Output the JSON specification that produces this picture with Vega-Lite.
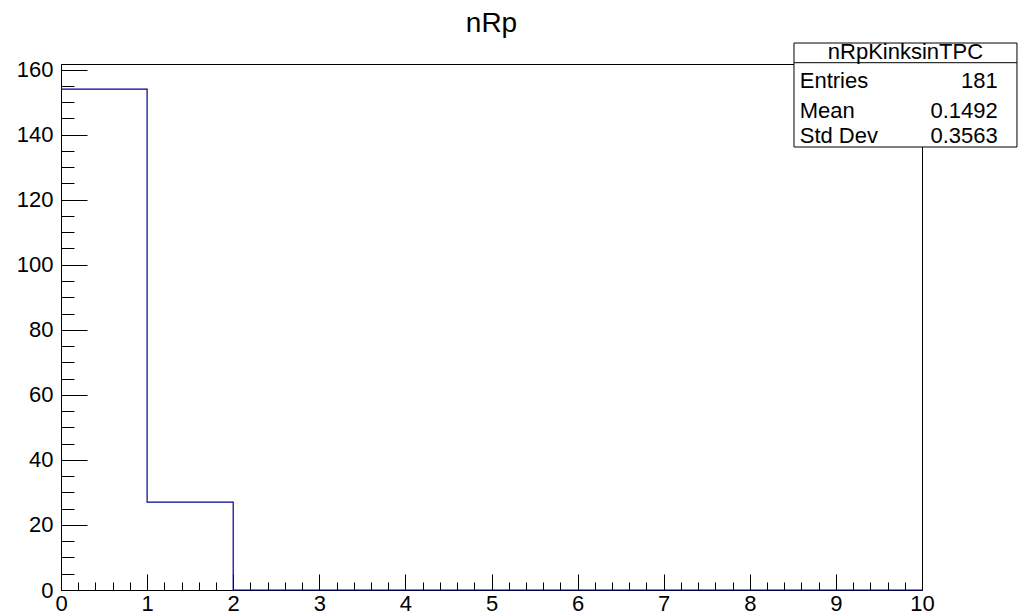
{
  "$schema": "https://vega.github.io/schema/vega-lite/v6.json",
  "width": 861,
  "height": 526,
  "autosize": {"type": "none"},
  "padding": {"left": 61, "top": 64, "right": 96, "bottom": 25},
  "background": "white",
  "config": {
    "view": {"stroke": "black", "strokeWidth": 1},
    "font": "Liberation Sans",
    "axis": {"grid": false, "domainColor": "black", "tickColor": "black", "labelColor": "black", "labelFont": "Liberation Sans", "labelFontSize": 22, "title": null, "labelFlush": false, "labelOverlap": false, "domainWidth": 1, "tickWidth": 1}
  },
  "title": {"text": "nRp", "anchor": "middle", "fontSize": 28, "fontWeight": "normal", "font": "Liberation Sans", "color": "black", "offset": -25, "baseline": "bottom"},
  "datasets": {
    "hist": [
      {"x": 0, "count": 154}, {"x": 1, "count": 27}, {"x": 2, "count": 0}, {"x": 3, "count": 0},
      {"x": 4, "count": 0}, {"x": 5, "count": 0}, {"x": 6, "count": 0}, {"x": 7, "count": 0},
      {"x": 8, "count": 0}, {"x": 9, "count": 0}, {"x": 10, "count": 0}
    ],
    "stats": [
      {"name": "Entries", "value": "181"},
      {"name": "Mean", "value": "0.1492"},
      {"name": "Std Dev", "value": "0.3563"}
    ],
    "one": [{"name": "nRpKinksinTPC"}]
  },
  "resolve": {"axis": {"x": "independent", "y": "independent"}},
  "layer": [
    {
      "data": {"name": "hist"},
      "mark": {"type": "line", "interpolate": "step-after", "color": "#000099", "strokeWidth": 1.2},
      "encoding": {
        "x": {"field": "x", "type": "quantitative", "scale": {"domain": [0, 10], "nice": false, "zero": false},
              "axis": {"orient": "bottom", "values": [0,1,2,3,4,5,6,7,8,9,10], "tickSize": -16, "labelPadding": 19}},
        "y": {"field": "count", "type": "quantitative", "scale": {"domain": [0, 161.7], "nice": false, "zero": false},
              "axis": {"orient": "left", "values": [0,20,40,60,80,100,120,140,160], "tickSize": -26, "labelPadding": 34}}
      }
    },
    {
      "data": {"name": "hist"},
      "mark": {"type": "line", "opacity": 0},
      "encoding": {
        "x": {"field": "x", "type": "quantitative",
              "axis": {"orient": "bottom", "values": [0.2,0.4,0.6,0.8,1.2,1.4,1.6,1.8,2.2,2.4,2.6,2.8,3.2,3.4,3.6,3.8,4.2,4.4,4.6,4.8,5.2,5.4,5.6,5.8,6.2,6.4,6.6,6.8,7.2,7.4,7.6,7.8,8.2,8.4,8.6,8.8,9.2,9.4,9.6,9.8], "tickSize": -8, "labels": false, "domain": false}},
        "y": {"field": "count", "type": "quantitative",
              "axis": {"orient": "left", "values": [5,10,15,25,30,35,45,50,55,65,70,75,85,90,95,105,110,115,125,130,135,145,150,155], "tickSize": -13, "labels": false, "domain": false}}
      }
    },
    {
      "data": {"name": "one"},
      "mark": {"type": "rect", "fill": "white", "stroke": "black", "strokeWidth": 1},
      "encoding": {
        "x": {"datum": 8.513, "type": "quantitative", "axis": null},
        "x2": {"datum": 11.103},
        "y": {"datum": 168.15, "type": "quantitative", "axis": null},
        "y2": {"datum": 136.18}
      }
    },
    {
      "data": {"name": "one"},
      "mark": {"type": "rule", "color": "black", "strokeWidth": 1},
      "encoding": {
        "x": {"datum": 8.513, "type": "quantitative", "axis": null},
        "x2": {"datum": 11.103},
        "y": {"datum": 162.1, "type": "quantitative", "axis": null}
      }
    },
    {
      "data": {"name": "one"},
      "mark": {"type": "text", "align": "center", "baseline": "middle", "fontSize": 22, "color": "black"},
      "encoding": {
        "x": {"datum": 9.808, "type": "quantitative", "axis": null},
        "y": {"datum": 165.3, "type": "quantitative", "axis": null},
        "text": {"field": "name"}
      }
    },
    {
      "data": {"name": "stats"},
      "transform": [{"filter": "datum.name === 'Entries'"}],
      "mark": {"type": "text", "align": "left", "baseline": "middle", "fontSize": 22, "color": "black"},
      "encoding": {
        "x": {"datum": 8.58, "type": "quantitative", "axis": null},
        "y": {"datum": 156.6, "type": "quantitative", "axis": null},
        "text": {"field": "name"}
      }
    },
    {
      "data": {"name": "stats"},
      "transform": [{"filter": "datum.name === 'Entries'"}],
      "mark": {"type": "text", "align": "right", "baseline": "middle", "fontSize": 22, "color": "black"},
      "encoding": {
        "x": {"datum": 10.88, "type": "quantitative", "axis": null},
        "y": {"datum": 156.6, "type": "quantitative", "axis": null},
        "text": {"field": "value"}
      }
    },
    {
      "data": {"name": "stats"},
      "transform": [{"filter": "datum.name === 'Mean'"}],
      "mark": {"type": "text", "align": "left", "baseline": "middle", "fontSize": 22, "color": "black"},
      "encoding": {
        "x": {"datum": 8.58, "type": "quantitative", "axis": null},
        "y": {"datum": 147.4, "type": "quantitative", "axis": null},
        "text": {"field": "name"}
      }
    },
    {
      "data": {"name": "stats"},
      "transform": [{"filter": "datum.name === 'Mean'"}],
      "mark": {"type": "text", "align": "right", "baseline": "middle", "fontSize": 22, "color": "black"},
      "encoding": {
        "x": {"datum": 10.88, "type": "quantitative", "axis": null},
        "y": {"datum": 147.4, "type": "quantitative", "axis": null},
        "text": {"field": "value"}
      }
    },
    {
      "data": {"name": "stats"},
      "transform": [{"filter": "datum.name === 'Std Dev'"}],
      "mark": {"type": "text", "align": "left", "baseline": "middle", "fontSize": 22, "color": "black"},
      "encoding": {
        "x": {"datum": 8.58, "type": "quantitative", "axis": null},
        "y": {"datum": 139.6, "type": "quantitative", "axis": null},
        "text": {"field": "name"}
      }
    },
    {
      "data": {"name": "stats"},
      "transform": [{"filter": "datum.name === 'Std Dev'"}],
      "mark": {"type": "text", "align": "right", "baseline": "middle", "fontSize": 22, "color": "black"},
      "encoding": {
        "x": {"datum": 10.88, "type": "quantitative", "axis": null},
        "y": {"datum": 139.6, "type": "quantitative", "axis": null},
        "text": {"field": "value"}
      }
    }
  ]
}
